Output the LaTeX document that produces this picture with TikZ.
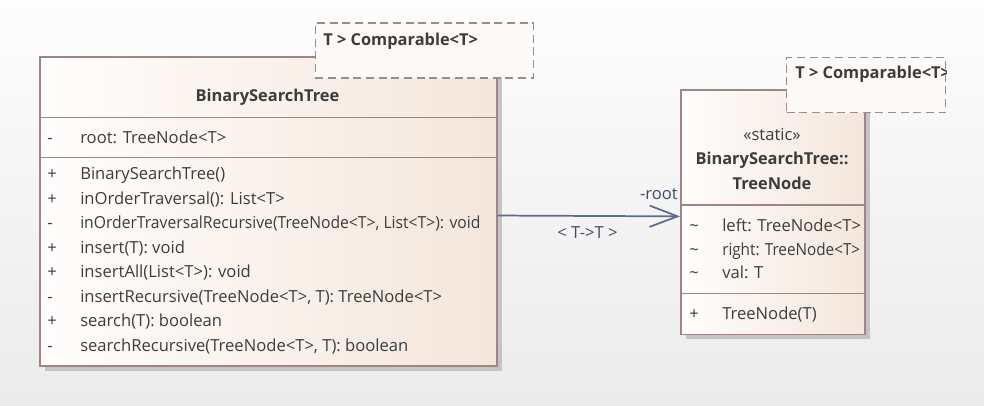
\documentclass[tikz,border=0pt]{standalone}
\usepackage{fontspec}
\setmainfont{Open Sans}
\usetikzlibrary{arrows.meta, positioning, shadows}

\definecolor{bgtop}{HTML}{FDFDFD}
\definecolor{bgbottom}{HTML}{EBEBEB}
\definecolor{classleft}{HTML}{FFFDFC}
\definecolor{classright}{HTML}{F4E6DB}
\definecolor{classborder}{HTML}{9E8686}
\definecolor{tmplfill}{HTML}{FDF9F7}
\definecolor{tmplborder}{HTML}{9A8C8C}
\definecolor{shadowgray}{HTML}{C4C4C4}
\definecolor{textgray}{HTML}{3C3C3C}
\definecolor{assocblue}{HTML}{5D6B8A}

\newcommand{\vis}[1]{\makebox[24.75pt][l]{#1}}

\begin{document}
\begin{tikzpicture}[
    x=0.75pt, y=-0.75pt,
    classbox/.style={rectangle, draw=classborder, line width=1.3pt, left color=classleft, right color=classright,
        anchor=north west, inner sep=0pt,
        drop shadow={shadow xshift=3.5pt, shadow yshift=-3.5pt, fill=shadowgray, opacity=1}},
    tmplbox/.style={rectangle, draw=tmplborder, line width=1pt, dash pattern=on 6pt off 3.5pt, fill=tmplfill,
        anchor=north west, inner sep=0pt},
    sep/.style={classborder, line width=1.1pt},
    member/.style={anchor=base west, inner sep=0pt, text=textgray, font=\fontsize{12.45}{15}\selectfont},
    title/.style={anchor=base, inner sep=0pt, text=textgray, font=\fontsize{12.3}{15}\selectfont\bfseries},
    tmpltext/.style={anchor=base west, inner sep=0pt, text=textgray, font=\fontsize{12.3}{15}\selectfont\bfseries},
    assoc/.style={draw=assocblue, line width=1.3pt, -{Straight Barb[length=21pt, width=16pt, line width=1.3pt]}},
    assoclabel/.style={inner sep=0pt, text=assocblue!70!black, font=\fontsize{12.45}{15}\selectfont}
]

% Background
\fill[top color=bgtop, bottom color=bgbottom] (0,0) rectangle (984,406);
\useasboundingbox (0,0) rectangle (984,406);

% Class BinarySearchTree
\node[classbox, minimum width=342.75pt, minimum height=232pt] (bst) at (39,56) {};
\draw[sep] (bst.west |- 0,117.5) -- (bst.east |- 0,117.5);
\draw[sep] (bst.west |- 0,157.5) -- (bst.east |- 0,157.5);
\node[title] (bsttitle) at (267.5,102) {BinarySearchTree};
\node[member] (bstroot) at (47,143) {\vis{-}root: TreeNode<T>};
\node[member] (op1) at (47,180) {\vis{+}BinarySearchTree()};
\node[member] (op2) at (47,204.5) {\vis{+}inOrderTraversal(): List<T>};
\node[member] (op3) at (47,228.9) {\vis{-}\scalebox{0.945}[1]{inOrderTraversalRecursive(TreeNode<T>, List<T>): void}};
\node[member] (op4) at (47,253.4) {\vis{+}insert(T): void};
\node[member] (op5) at (47,277.8) {\vis{+}insertAll(List<T>): void};
\node[member] (op6) at (47,302.3) {\vis{-}insertRecursive(TreeNode<T>, T): TreeNode<T>};
\node[member] (op7) at (47,326.7) {\vis{+}search(T): boolean};
\node[member] (op8) at (47,351.2) {\vis{-}searchRecursive(TreeNode<T>, T): boolean};

% Template parameter of BinarySearchTree
\node[tmplbox, minimum width=163.5pt, minimum height=41.25pt] (bsttmpl) at (314.5,22.5) {};
\node[tmpltext] (bsttmpltext) at (323,45.5) {T > Comparable<T>};

% Class BinarySearchTree::TreeNode
\node[classbox, minimum width=138pt, minimum height=183pt] (tn) at (680,89.5) {};
\draw[sep] (tn.west |- 0,205) -- (tn.east |- 0,205);
\draw[sep] (tn.west |- 0,293.5) -- (tn.east |- 0,293.5);
\node[anchor=base, inner sep=0pt, text=textgray, font=\fontsize{12.45}{15}\selectfont] (tnstereo) at (772,140.5) {«static»};
\node[title] (tntitle1) at (772,165) {BinarySearchTree::};
\node[title] (tntitle2) at (772,189.5) {TreeNode};
\node[member] (tnleft) at (689,231) {\vis{\textasciitilde}left: TreeNode<T>};
\node[member] (tnright) at (689,255) {\vis{\textasciitilde}\scalebox{0.92}[1]{right: TreeNode<T>}};
\node[member] (tnval) at (689,278.5) {\vis{\textasciitilde}val: T};
\node[member] (tnctor) at (689,319) {\vis{+}TreeNode(T)};

% Template parameter of TreeNode
\begin{scope}
\clip (786,50) rectangle (946,120);
\node[tmplbox, minimum width=119.25pt, minimum height=41.25pt] (tntmpl) at (786,57) {};
\node[tmpltext] (tntmpltext) at (795,79) {T > Comparable<T>};
\end{scope}

% Association
\draw[assoc] ([yshift=-3pt]bst.east) -- ([yshift=-3pt]tn.west);
\node[assoclabel, anchor=base east] (rolelabel) at (678,199) {-root};
\node[assoclabel, anchor=base] (bindlabel) at (587.5,238) {< T->T >};

\end{tikzpicture}
\end{document}
